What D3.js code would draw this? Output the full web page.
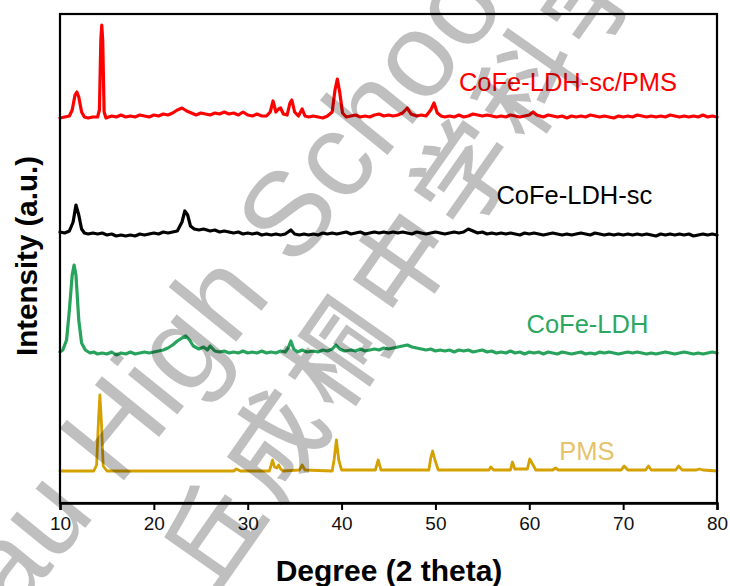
<!DOCTYPE html>
<html><head><meta charset="utf-8">
<script src="https://cdn.jsdelivr.net/npm/d3@7"></script>
<style>html,body{margin:0;padding:0;background:#fff;}svg{display:block;}</style>
</head><body>
<script>
// ---- data (2θ in degrees, intensity in a.u. incl. vertical stacking offset) ----
const xTicks = [10, 20, 30, 40, 50, 60, 70, 80];
const seriesNames = ["CoFe-LDH-sc/PMS", "CoFe-LDH-sc", "CoFe-LDH", "PMS"];
const seriesColors = ["#ff0000", "#000000", "#27a35c", "#d4a100"];
const labelColors = ["#ff0000", "#000000", "#2aa862", "#e5c36a"];

const pmsSc = [[10,385],[10.5,386],[11,387],[11.3,393],[11.6,408],[11.8,411],[12,406],[12.3,391],[12.6,386],[13,385],[13.5,386],[14,386],[14.2,393],[14.35,463],[14.45,478],[14.55,463],[14.7,391],[14.9,385],[15.5,387],[16,386],[16.5,388],[17,386],[17.5,387],[18,386],[18.5,388],[19,387],[19.5,386],[20,388],[20.5,387],[21,389],[21.5,388],[22,390],[22.5,393],[23,395],[23.5,392],[24,390],[24.5,388],[25,390],[25.5,389],[26,388],[26.5,390],[27,389],[27.5,391],[28,389],[28.5,390],[29,388],[29.5,391],[30,388],[30.5,387],[31,389],[31.5,387],[32,387],[32.4,391],[32.7,402],[33,391],[33.3,394],[33.5,395],[33.8,389],[34.2,388],[34.5,400],[34.7,403],[35,391],[35.4,387],[35.8,394],[36.1,387],[36.5,386],[37,387],[37.5,386],[38,385],[38.5,387],[39,391],[39.3,413],[39.55,424],[39.8,411],[40.1,390],[40.5,386],[41,387],[41.5,388],[42,386],[42.5,387],[43,386],[43.5,388],[44,389],[44.5,387],[45,388],[45.5,387],[46,388],[46.5,390],[47,395],[47.4,389],[48,387],[48.5,388],[49,387],[49.5,393],[49.85,400],[50.2,390],[50.6,387],[51,386],[51.5,387],[52,386],[52.5,388],[53,386],[53.5,387],[54,389],[54.5,388],[55,387],[55.5,388],[56,387],[56.5,386],[57,387],[57.5,386],[58,388],[58.5,387],[59,386],[59.5,387],[60,388],[60.4,391],[60.8,388],[61.5,386],[62,388],[62.5,387],[63,386],[63.5,387],[64,385],[64.5,387],[65,386],[65.5,387],[66,386],[66.5,388],[67,387],[67.5,386],[68,387],[68.5,386],[69,385],[69.5,387],[70,386],[70.5,387],[71,386],[71.5,388],[72,387],[72.5,386],[73,387],[73.5,386],[74,387],[74.5,386],[75,388],[75.5,387],[76,386],[76.5,387],[77,386],[77.5,387],[78,386],[78.5,388],[79,386],[79.5,387],[80,386]];

const ldhSc = [[10,271],[10.5,270],[11,272],[11.4,281],[11.7,298],[12,288],[12.3,274],[12.6,270],[13,269],[13.5,270],[14,269],[14.5,270],[15,268],[15.5,269],[16,267],[16.5,268],[17,267],[17.5,268],[18,267],[18.5,269],[19,268],[19.5,269],[20,270],[20.5,269],[21,271],[21.5,270],[22,271],[22.5,272],[23,281],[23.3,292],[23.6,288],[23.9,277],[24.3,274],[24.8,273],[25.3,274],[26,272],[26.5,273],[27,271],[27.5,272],[28,271],[28.5,270],[29,271],[29.5,269],[30,270],[30.5,269],[31,270],[31.5,268],[32,269],[32.5,268],[33,269],[33.5,268],[34,269],[34.6,273],[35,269],[35.5,268],[36,269],[36.5,268],[37,269],[37.5,268],[38,270],[38.5,269],[39,270],[39.5,269],[40,270],[40.5,271],[41,269],[41.5,270],[42,271],[42.5,269],[43,270],[43.5,271],[44,270],[44.5,271],[45,270],[45.5,271],[46,270],[46.5,271],[47,270],[47.5,269],[48,271],[48.5,270],[49,269],[49.5,270],[50,271],[50.5,270],[51,269],[51.5,270],[52,271],[52.5,270],[53,271],[53.5,274],[54,272],[54.5,270],[55,271],[55.5,269],[56,270],[56.5,269],[57,270],[57.5,269],[58,270],[58.5,269],[59,268],[59.5,270],[60,269],[60.5,270],[61,269],[61.5,268],[62,269],[62.5,270],[63,269],[63.5,268],[64,269],[64.5,268],[65,269],[65.5,270],[66,269],[66.5,268],[67,270],[67.5,269],[68,268],[68.5,269],[69,268],[69.5,269],[70,268],[70.5,269],[71,268],[71.5,269],[72,268],[72.5,269],[73,268],[73.5,267],[74,269],[74.5,268],[75,269],[75.5,268],[76,269],[76.5,268],[77,269],[77.5,267],[78,268],[78.5,269],[79,268],[79.5,269],[80,268]];

const ldh = [[10,151],[10.3,153],[10.7,163],[11,193],[11.3,228],[11.5,238],[11.7,228],[12,183],[12.3,160],[12.7,153],[13.2,150],[13.6,151],[14,149],[14.5,150],[15,149],[15.5,151],[16,148],[16.5,150],[17,149],[17.5,151],[18,149],[18.5,150],[19,151],[19.5,150],[20,151],[20.5,152],[21,153],[21.5,155],[22,158],[22.5,162],[23,165],[23.4,167],[23.8,163],[24.2,157],[24.8,154],[25.3,156],[25.7,153],[26,157],[26.5,152],[27,151],[27.5,152],[28,150],[28.5,151],[29,150],[29.5,152],[30,150],[30.5,151],[31,150],[31.5,152],[32,150],[32.5,151],[33,150],[33.5,152],[34,151],[34.3,155],[34.6,162],[34.9,154],[35.3,151],[35.8,153],[36.3,151],[37,152],[37.5,151],[38,153],[38.5,152],[39,154],[39.4,158],[39.8,154],[40.3,152],[41,153],[41.5,152],[42,154],[42.5,152],[43,153],[43.5,154],[44,153],[44.5,155],[45,154],[45.5,155],[46,156],[46.5,157],[47,158],[47.5,156],[48,155],[48.5,154],[49,153],[49.5,154],[50,152],[50.5,153],[51,152],[51.5,153],[52,151],[52.5,153],[53,152],[53.5,153],[54,151],[54.5,152],[55,153],[55.5,151],[56,152],[56.5,150],[57,151],[57.5,150],[58,152],[58.5,150],[59,151],[59.5,149],[60,151],[60.5,150],[61,151],[61.5,149],[62,151],[62.5,150],[63,149],[63.5,151],[64,150],[64.5,149],[65,150],[65.5,151],[66,149],[66.5,150],[67,149],[67.5,151],[68,150],[68.5,151],[69,150],[69.5,149],[70,150],[70.5,151],[71,150],[71.5,151],[72,150],[72.5,149],[73,150],[73.5,149],[74,150],[74.5,151],[75,150],[75.5,149],[76,150],[76.5,151],[77,150],[77.5,149],[78,150],[78.5,149],[79,150],[79.5,151],[80,150]];

const pms = [[10,32],[13.6,32],[13.9,38],[14.1,83],[14.25,108],[14.4,83],[14.6,37],[15,32],[28.5,32],[28.8,34],[29.2,32],[32.3,32],[32.5,38],[32.65,43],[32.85,36],[33.1,35],[33.3,38],[33.5,34],[33.8,32],[35.5,33],[35.8,38],[36.1,33],[39,32],[39.2,43],[39.45,63],[39.7,43],[40,33],[43.6,33],[43.9,43],[44.2,33],[49.3,33],[49.5,45],[49.7,52],[49.95,43],[50.3,33],[55.7,33],[55.9,36],[56.2,33],[58,33],[58.2,41],[58.45,34],[59.8,34],[60.05,44],[60.4,38],[60.7,33],[62.5,33],[62.8,35],[63.1,33],[69.8,33],[70.1,37],[70.5,33],[72.4,33],[72.7,37],[73,33],[75.6,33],[75.9,37],[76.3,33],[77.8,33],[78.1,34],[78.5,33],[80,32]];

const seriesData = [pmsSc, ldhSc, ldh, pms];
// label anchor positions in data units [2θ, intensity]
const labelPos = [[52.5, 412], [56.5, 299], [59.7, 170], [63.2, 43]];

const wmEnglish = "Yau High School";
const wmChinese = "丘成桐中学科学";

// ---- chart ----
const W = 730, H = 586;
const m = {left: 60, right: 13, top: 14, bottom: 83};
const svg = d3.select("body").append("svg").attr("width", W).attr("height", H);
const x = d3.scaleLinear().domain([10, 80]).range([m.left, W - m.right]);
const y = d3.scaleLinear().domain([0, 489]).range([H - m.bottom, m.top]);
const font = "Arial, 'Liberation Sans', Helvetica, sans-serif";

const line = d3.line().x(d => x(d[0])).y(d => y(d[1]));
const g = svg.append("g");
seriesData.forEach((s, i) => {
  g.append("path").datum(s).attr("d", line).attr("fill", "none")
    .attr("stroke", seriesColors[i]).attr("stroke-width", i === 3 ? 2.8 : 3.2)
    .attr("stroke-linejoin", "round").attr("stroke-linecap", "round");
});

// frame
svg.append("rect").attr("x", m.left).attr("y", m.top)
  .attr("width", W - m.right - m.left).attr("height", H - m.bottom - m.top)
  .attr("fill", "none").attr("stroke", "#000").attr("stroke-width", 2.2);

const xAxis = svg.append("g").attr("transform", `translate(0,${H - m.bottom})`)
  .call(d3.axisBottom(x).tickValues(xTicks).tickFormat(d3.format("d")).tickSize(7).tickPadding(7));
xAxis.select(".domain").attr("stroke-width", 2.4);
xAxis.selectAll(".tick line").attr("stroke-width", 2);
xAxis.selectAll(".tick text").attr("font-family", font).attr("font-size", 19).attr("fill", "#111");

svg.append("text").attr("x", 389).attr("y", 581).attr("text-anchor", "middle")
  .attr("font-family", font).attr("font-weight", "bold").attr("font-size", 30).text("Degree (2 theta)");
svg.append("text").attr("transform", "translate(37,256) rotate(-90)").attr("text-anchor", "middle")
  .attr("font-family", font).attr("font-weight", "bold").attr("font-size", 29.5).text("Intensity (a.u.)");

seriesNames.forEach((n, i) => {
  svg.append("text").attr("x", x(labelPos[i][0])).attr("y", y(labelPos[i][1]))
    .attr("font-family", font).attr("font-size", 25.5).attr("fill", labelColors[i]).text(n);
});

// watermark
const wm = svg.append("g").attr("fill", "#000").attr("fill-opacity", 0.25).style("pointer-events", "none");
wm.append("text").attr("transform", "translate(-32,673) rotate(-51)")
  .attr("font-family", font).attr("font-size", 120).text(wmEnglish);
wm.append("text").attr("transform", "translate(213,596) rotate(-55)")
  .attr("font-family", "'Noto Sans CJK SC'").attr("font-size", 100).attr("font-weight", 500)
  .attr("letter-spacing", 10).text(wmChinese);
</script>
</body></html>
